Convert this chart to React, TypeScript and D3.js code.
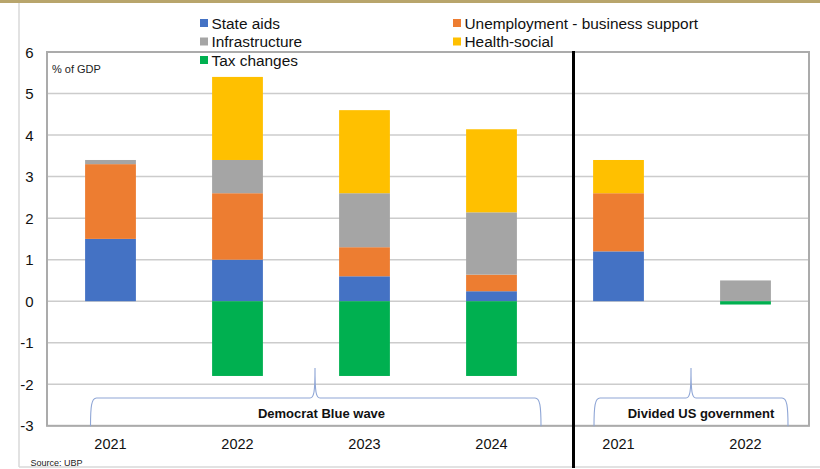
import React from "react";
import * as d3 from "d3";

const categories = ["2021", "2022", "2023", "2024", "2021", "2022"];
const seriesNames = [
  "State aids",
  "Unemployment - business support",
  "Infrastructure",
  "Health-social",
  "Tax changes",
];
const stateAids = [1.5, 1.0, 0.6, 0.24, 1.2, 0];
const unemployment = [1.8, 1.6, 0.7, 0.4, 1.4, 0];
const infrastructure = [0.1, 0.8, 1.3, 1.5, 0, 0.5];
const healthSocial = [0, 2.0, 2.0, 2.0, 0.8, 0];
const taxChanges = [0, -1.8, -1.8, -1.8, 0, -0.08];
const colors = ["#4472C4", "#ED7D31", "#A5A5A5", "#FFC000", "#00B050"];
const yTicks = [-3, -2, -1, 0, 1, 2, 3, 4, 5, 6];
const groups = [
  { label: "Democrat Blue wave", from: 0, to: 3 },
  { label: "Divided US government", from: 4, to: 5 },
];

const W = 820;
const H = 469;
const FONT = "'Liberation Sans', Arial, sans-serif";

export default function App() {
  const plotL = 47;
  const plotR = 809;
  const plotT = 52;
  const plotB = 425.8;

  const x = d3
    .scaleBand<number>()
    .domain(categories.map((_, i) => i))
    .range([plotL, plotR])
    .padding(0);
  const y = d3.scaleLinear().domain([-3, 6]).range([plotB, plotT]);
  const barW = x.bandwidth() * 0.4;

  const series = [stateAids, unemployment, infrastructure, healthSocial, taxChanges];
  const table = categories.map((c, i) => {
    const row: Record<string, number> = { idx: i };
    seriesNames.forEach((s, k) => (row[s] = series[k][i]));
    return row;
  });
  const stacked = d3
    .stack<Record<string, number>>()
    .keys(seriesNames)
    .offset(d3.stackOffsetDiverging)(table);

  const cx = (i: number) => (x(i) as number) + x.bandwidth() / 2;

  const bracketPath = (x0: number, x1: number, xp: number) => {
    const yb = plotB + 0.5;
    const yh = 398;
    const yp = 368;
    return [
      `M${x0},${yb}`,
      `C${x0},${yh + 8} ${x0 + 1},${yh} ${x0 + 6},${yh}`,
      `L${xp - 5},${yh}`,
      `C${xp - 1},${yh} ${xp},${yh - 6} ${xp},${yp}`,
      `C${xp},${yh - 6} ${xp + 1},${yh} ${xp + 5},${yh}`,
      `L${x1 - 6},${yh}`,
      `C${x1 - 1},${yh} ${x1},${yh + 8} ${x1},${yb}`,
    ].join(" ");
  };

  const bracketGeom = [
    { x0: cx(groups[0].from) - 20, x1: cx(groups[0].to) + 49.5, xp: 315, tx: 321.5 },
    { x0: cx(groups[1].from) - 24.5, x1: cx(groups[1].to) + 42.5, xp: 691, tx: 701 },
  ];

  const legendItems = [
    { k: 0, lx: 200, ly: 23 },
    { k: 1, lx: 453, ly: 23 },
    { k: 2, lx: 200, ly: 41.5 },
    { k: 3, lx: 453, ly: 41.5 },
    { k: 4, lx: 200, ly: 60 },
  ];

  return (
    <svg
      width={W}
      height={H}
      style={{ position: "absolute", left: 0, top: 0, background: "#fff" }}
      fontFamily={FONT}
    >
      <rect x={0} y={0} width={W} height={3} fill="#b8a56c" />
      <line x1={19} y1={3} x2={19} y2={467} stroke="#d9d9d9" strokeWidth={1.5} />
      <line x1={19} y1={467} x2={W} y2={467} stroke="#d9d9d9" strokeWidth={1.5} />

      {yTicks.map((t) => (
        <g key={t}>
          <line
            x1={plotL}
            x2={plotR}
            y1={y(t)}
            y2={y(t)}
            stroke="#cccccc"
            strokeWidth={1.5}
          />
          <text
            x={33.5}
            y={y(t)}
            textAnchor="end"
            dominantBaseline="central"
            fontSize={15}
            fill="#111"
          >
            {t}
          </text>
        </g>
      ))}

      {stacked.map((layer, k) =>
        layer.map((d, i) => {
          const y0 = Math.min(d[0], d[1]);
          const y1 = Math.max(d[0], d[1]);
          if (y1 - y0 <= 0) return null;
          return (
            <rect
              key={`${k}-${i}`}
              x={cx(i) - barW / 2}
              y={y(y1)}
              width={barW}
              height={y(y0) - y(y1)}
              fill={colors[k]}
            />
          );
        })
      )}

      <rect
        x={plotL}
        y={plotT}
        width={plotR - plotL}
        height={plotB - plotT}
        fill="none"
        stroke="#ababab"
        strokeWidth={2}
      />

      <text x={52} y={69} fontSize={11} fill="#222" dominantBaseline="central">
        % of GDP
      </text>

      {categories.map((c, i) => (
        <text
          key={`c${i}`}
          x={cx(i)}
          y={444}
          textAnchor="middle"
          dominantBaseline="central"
          fontSize={14.5}
          fill="#111"
        >
          {c}
        </text>
      ))}

      {groups.map((g, j) => {
        const b = bracketGeom[j];
        return (
          <g key={g.label}>
            <path d={bracketPath(b.x0, b.x1, b.xp)} fill="none" stroke="#8fa6d6" strokeWidth={1.1} />
            <text
              x={b.tx}
              y={413}
              textAnchor="middle"
              dominantBaseline="central"
              fontSize={13}
              fontWeight="bold"
              fill="#111"
            >
              {g.label}
            </text>
          </g>
        );
      })}

      <line x1={573.5} y1={51} x2={573.5} y2={468} stroke="#000" strokeWidth={3} />

      {legendItems.map((it) => (
        <g key={it.k}>
          <rect x={it.lx} y={it.ly - 4} width={8} height={8} fill={colors[it.k]} />
          <text
            x={it.lx + 11.5}
            y={it.ly}
            dominantBaseline="central"
            fontSize={15.4}
            fill="#111"
          >
            {seriesNames[it.k]}
          </text>
        </g>
      ))}

      <text x={30.5} y={462.5} fontSize={9} fill="#222" dominantBaseline="central">
        Source: UBP
      </text>
    </svg>
  );
}
